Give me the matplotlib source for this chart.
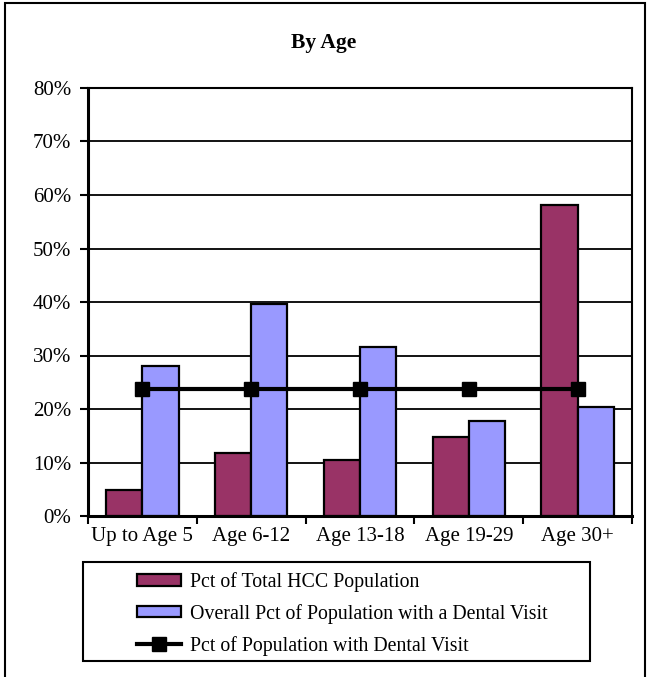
import numpy as np
import matplotlib.pyplot as plt
from matplotlib.patches import Rectangle
from matplotlib.ticker import FuncFormatter

plt.rcParams['font.family'] = ['Liberation Serif', 'DejaVu Serif']

# Werte in Prozent
gruppen = ["Up to Age 5", "Age 6-12", "Age 13-18", "Age 19-29", "Age 30+"]
hcc_anteil = np.array([4.8, 11.8, 10.4, 14.8, 58.2])
dental_gesamt = np.array([28.1, 39.6, 31.5, 17.8, 20.3])
dental_linie = np.array([23.8, 23.8, 23.8, 23.8, 23.8])

fig = plt.figure(figsize=(6.47, 6.77), dpi=100)
ax = fig.add_axes([88/647, 1-516/677, 544/647, 428/677])

x = np.arange(len(gruppen))
b = 1/3
h1 = ax.bar(x - b/2, hcc_anteil, b, color="#993366", edgecolor="black", lw=1.6,
            label="Pct of Total HCC Population", zorder=2)
h2 = ax.bar(x + b/2, dental_gesamt, b, color="#9999FF", edgecolor="black", lw=1.6,
            label="Overall Pct of Population with a Dental Visit", zorder=2)
h3, = ax.plot(x, dental_linie, "-s", color="black", lw=3, ms=9.5,
              label="Pct of Population with Dental Visit", zorder=3)

ax.set_xlim(-0.5, len(gruppen) - 0.5)
ax.set_ylim(0, 80)
ax.set_yticks(np.arange(0, 81, 10))
ax.yaxis.set_major_formatter(FuncFormatter(lambda v, p: f"{v:.0f}%"))
ax.grid(axis="y", color="black", lw=1.3, zorder=0)

# Kategorienbeschriftung mittig, Teilstriche zwischen den Gruppen
ax.set_xticks(np.arange(-0.5, len(gruppen), 1))
ax.set_xticklabels([])
ax.set_xticks(x, minor=True)
ax.set_xticklabels(gruppen, minor=True)
ax.tick_params(axis="x", which="minor", length=0, labelsize=15, pad=8)
ax.tick_params(axis="x", which="major", length=6, width=1.5, direction="out")
ax.tick_params(axis="y", labelsize=15, length=6, width=1.5, pad=6)
for s in ax.spines.values():
    s.set_linewidth(1.5)
ax.spines["left"].set_linewidth(2.2)
ax.spines["bottom"].set_linewidth(2.2)

fig.text(0.5, 1-43/677, "By Age", ha="center", va="center",
         fontsize=15.5, fontweight="bold")

# Legende ohne eigenen Rahmen, Rahmen separat
leg = fig.legend([h1, h2, h3], [h1.get_label(), h2.get_label(), h3.get_label()],
                 loc="upper left", bbox_to_anchor=(137/647, 1-572/677),
                 fontsize=14.3, frameon=False, handlelength=2.2,
                 handleheight=0.5, handletextpad=0.45, borderpad=0,
                 labelspacing=0.6, borderaxespad=0)
fig.patches.append(Rectangle((83/647, 1-661/677), 507/647, 99/677,
                             transform=fig.transFigure, fill=False,
                             edgecolor="black", lw=1.5))

# Rahmen um die ganze Grafik
fig.patches.append(Rectangle((5/647, -0.01), 640/647, 1-3/677+0.01,
                             transform=fig.transFigure, fill=False,
                             edgecolor="black", lw=1.5))

plt.savefig("out.png", dpi=100)
